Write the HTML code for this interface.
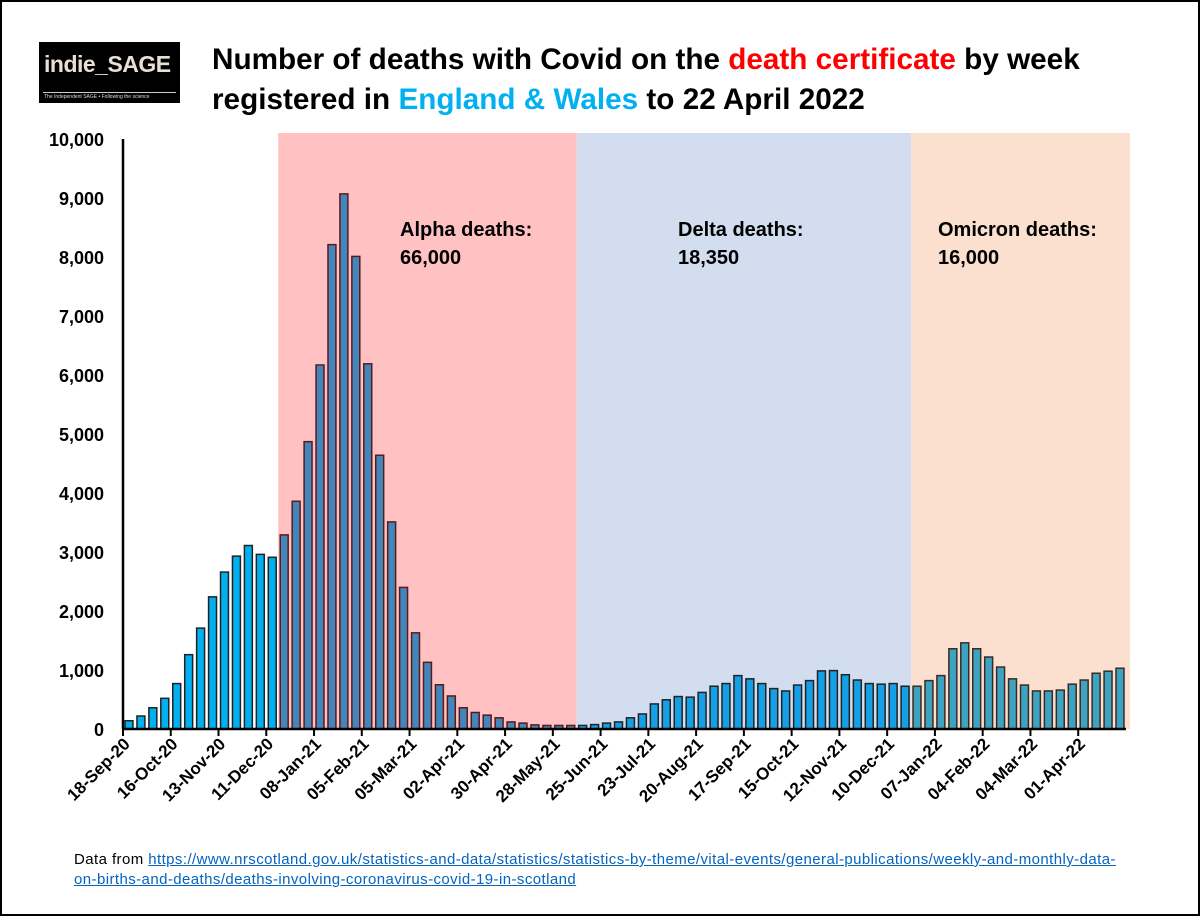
<!DOCTYPE html>
<html><head><meta charset="utf-8"><style>
html,body{margin:0;padding:0;background:#fff;}
body{width:1200px;height:916px;position:relative;overflow:hidden;font-family:"Liberation Sans",sans-serif;}
#frame{position:absolute;left:0;top:0;width:1196px;height:912px;border:2px solid #000;}
#logo{position:absolute;left:39px;top:42px;width:141px;height:61px;background:#000;}
#logo .t{position:absolute;left:5px;top:9px;color:#e8e0d4;font:bold 23px "Liberation Sans",sans-serif;letter-spacing:-0.5px;}
#logo .ln{position:absolute;left:4px;right:4px;top:50px;height:1px;background:#ccc;}
#logo .s{position:absolute;left:5px;top:52px;color:#ddd;font:5px "Liberation Sans",sans-serif;white-space:nowrap;}
#title{position:absolute;left:212px;top:40px;font:bold 29.7px "Liberation Sans",sans-serif;line-height:40px;color:#000;white-space:nowrap;}
#foot{position:absolute;left:74px;top:850px;font:15px "Liberation Sans",sans-serif;letter-spacing:0.42px;line-height:20px;color:#000;white-space:nowrap;}
#foot a{color:#0563c1;text-decoration:underline;}
</style></head><body>
<div id="frame"></div>
<div id="logo"><span class="t">indie_SAGE</span><div class="ln"></div><span class="s">The Independent SAGE • Following the science</span></div>
<div id="title">Number of deaths with Covid on the <span style="color:#ff0000">death certificate</span> by week<br>registered in <span style="color:#00b0f0">England &amp; Wales</span> to 22 April 2022</div>
<svg id="chart" width="1200" height="916" style="position:absolute;left:0;top:0"></svg>
<div id="foot">Data from <a>https://www.nrscotland.gov.uk/statistics-and-data/statistics/statistics-by-theme/vital-events/general-publications/weekly-and-monthly-data-</a><br><a>on-births-and-deaths/deaths-involving-coronavirus-covid-19-in-scotland</a></div>
<script>
const preValues=[140,220,360,520,770,1260,1710,2240,2660,2930,3110,2960,2910];
const alphaValues=[3290,3860,4870,6170,8210,9070,8010,6190,4640,3510,2400,1630,1130,750,560,360,280,235,190,120,100,70,60,60,60];
const deltaValues=[60,75,100,120,190,255,425,495,550,540,620,725,770,905,850,770,685,645,745,820,985,990,920,830,770,760,770,725];
const omicronValues=[725,820,905,1360,1460,1360,1220,1050,850,745,645,645,660,760,830,945,980,1030];
const yTicks=[0,1000,2000,3000,4000,5000,6000,7000,8000,9000,10000];
const yTickLabels=["0","1,000","2,000","3,000","4,000","5,000","6,000","7,000","8,000","9,000","10,000"];
const xLabels=["18-Sep-20","16-Oct-20","13-Nov-20","11-Dec-20","08-Jan-21","05-Feb-21","05-Mar-21","02-Apr-21","30-Apr-21","28-May-21","25-Jun-21","23-Jul-21","20-Aug-21","17-Sep-21","15-Oct-21","12-Nov-21","10-Dec-21","07-Jan-22","04-Feb-22","04-Mar-22","01-Apr-22"];
const annotations=[["Alpha deaths:","66,000"],["Delta deaths:","18,350"],["Omicron deaths:","16,000"]];

const NS="http://www.w3.org/2000/svg";
const svg=document.getElementById('chart');
const X0=123,Y0=729,YTOP=139,BW=11.94;
const all=[].concat(preValues,alphaValues,deltaValues,omicronValues);
const N=all.length;
const y=v=>Y0-(v/10000)*(Y0-YTOP);
const x=i=>X0+i*BW;
function mk(t,a){const e=document.createElementNS(NS,t);for(const k in a)e.setAttribute(k,a[k]);svg.appendChild(e);return e;}
const p1=preValues.length,p2=p1+alphaValues.length,p3=p2+deltaValues.length;
const bands=[[p1,p2,'#ffc1c1','alpha-band'],[p2,p3,'#d2ddf0','delta-band'],[p3,N+0.35,'#fbe0cf','omicron-band']];
bands.forEach(b=>{
 const r=mk('rect',{x:x(b[0]),y:133,width:x(b[1])-x(b[0]),height:Y0-133,fill:b[2]});
 
 
});
all.forEach((v,i)=>{
 let fill='#00b0f0',st='#222';
 if(i>=p1&&i<p2){fill='#4286bb';st='#5a1a1a';}
 else if(i>=p2&&i<p3){fill='#14a0e6';st='#222';}
 else if(i>=p3){fill='#3ca3c3';st='#3a2a22';}
 const r=mk('rect',{x:x(i)+2,y:y(v),width:BW-4,height:Y0-y(v),fill:fill,stroke:st,'stroke-width':1.5});
 
 
});
const ya=mk('line',{x1:X0,y1:YTOP,x2:X0,y2:Y0,stroke:'#000','stroke-width':2.5});


const xa=mk('line',{x1:X0,y1:Y0,x2:x(N),y2:Y0,stroke:'#000','stroke-width':2.5});


yTicks.forEach((v,k)=>{
 const t=mk('text',{x:104,y:y(v)+7,'text-anchor':'end','font-size':18,'font-weight':'bold','font-family':'Liberation Sans, sans-serif'});
 t.textContent=yTickLabels[k];
 
 
});
xLabels.forEach((l,k)=>{
 const i=k*4;
 const tk=mk('line',{x1:x(i),y1:Y0,x2:x(i),y2:Y0+7,stroke:'#000','stroke-width':2});
 
 
 const cx=x(i)+BW/2+2,cy=Y0+16;
 const t=mk('text',{x:cx,y:cy,'text-anchor':'end','font-size':17,'font-weight':'bold','font-family':'Liberation Sans, sans-serif',transform:`rotate(-45 ${cx} ${cy})`});
 t.textContent=l;
 
 
});
const ax=[400,678,938];
annotations.forEach((a,k)=>{
 a.forEach((s,j)=>{
  const t=mk('text',{x:ax[k],y:236+j*28,'font-size':20,'font-weight':'bold','font-family':'Liberation Sans, sans-serif'});
  t.textContent=s;
  
  
 });
});
</script>
</body></html>
